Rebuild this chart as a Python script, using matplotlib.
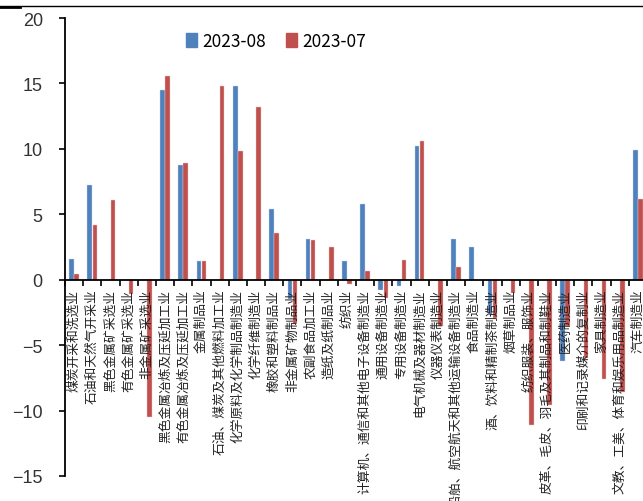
import matplotlib
matplotlib.use("Agg")
import matplotlib.pyplot as plt
import numpy as np
from matplotlib.lines import Line2D
from matplotlib.patches import Patch

plt.rcParams['font.family'] = ['Noto Sans CJK SC', 'DejaVu Sans']
plt.rcParams['axes.unicode_minus'] = True

industries = [
    "煤炭开采和洗选业", "石油和天然气开采业", "黑色金属矿采选业", "有色金属矿采选业",
    "非金属矿采选业", "黑色金属冶炼及压延加工业", "有色金属冶炼及压延加工业", "金属制品业",
    "石油、煤炭及其他燃料加工业", "化学原料及化学制品制造业", "化学纤维制造业", "橡胶和塑料制品业",
    "非金属矿物制品业", "农副食品加工业", "造纸及纸制品业", "纺织业",
    "计算机、通信和其他电子设备制造业", "通用设备制造业", "专用设备制造业", "电气机械及器材制造业",
    "仪器仪表制造业", "铁路、船舶、航空航天和其他运输设备制造业", "食品制造业", "酒、饮料和精制茶制造业",
    "烟草制品业", "纺织服装、服饰业", "皮革、毛皮、羽毛及其制品和制鞋业", "医药制造业",
    "印刷和记录媒介的复制业", "家具制造业", "文教、工美、体育和娱乐用品制造业", "汽车制造业",
]
aug_2023 = [1.6, 7.2, 0.0, 0.0, 0.0, 14.5, 8.8, 1.4,
            0.0, 14.8, 0.0, 5.4, -1.5, 3.1, 0.0, 1.4,
            5.8, -0.8, -0.5, 10.2, 0.0, 3.1, 2.5, -2.7,
            0.0, 0.0, 0.0, -6.2, 0.0, 0.0, 0.0, 9.9]
jul_2023 = [0.4, 4.2, 6.1, -1.1, -10.5, 15.6, 8.9, 1.4,
            14.8, 9.8, 13.2, 3.6, -3.4, 3.0, 2.5, -0.3,
            0.7, -1.4, 1.5, 10.6, -3.5, 1.0, 0.0, -2.9,
            -1.0, -11.1, -9.6, -3.5, -6.0, -7.6, -8.6, 6.2]

BLUE = "#4F81BD"
RED = "#C0504D"

fig = plt.figure(figsize=(6.43, 5.02), dpi=100)
ax = fig.add_axes([65 / 643, 25 / 502, 582 / 643, 458 / 502])

x = np.arange(len(industries))
w = 0.25
ax.bar(x - 0.14, aug_2023, w, color=BLUE, edgecolor="#c9d6ea", linewidth=0.3)
ax.bar(x + 0.14, jul_2023, w, color=RED, edgecolor="#ecc9c8", linewidth=0.3)

ax.set_xlim(-0.5, len(industries) - 0.5)
ax.set_ylim(-15, 20)
ax.set_yticks(np.arange(-15, 21, 5))
ax.tick_params(axis="y", direction="out", length=4, width=1.2, labelsize=13,
               pad=12, colors="black")
for lab in ax.get_yticklabels():
    lab.set_family("Liberation Sans")
    lab.set_color("#333333")

ax.set_xticks(np.arange(-0.5, len(industries), 1.0))
ax.set_xticklabels([])
ax.tick_params(axis="x", direction="out", length=4, width=1.2)

ax.spines["top"].set_visible(False)
ax.spines["right"].set_visible(False)
ax.spines["bottom"].set_position(("data", 0))
for s in ("left", "bottom"):
    ax.spines[s].set_linewidth(1.3)
    ax.spines[s].set_color("black")

# category names, rotated, hanging below the zero line
for i, name in enumerate(industries):
    ax.annotate(name, xy=(i, 0), xytext=(0, -6.5), textcoords="offset points",
                rotation=90, ha="center", va="top", fontsize=9.2,
                color="#222222", annotation_clip=False)

ax.legend(handles=[Patch(color=BLUE, label="2023-08"), Patch(color=RED, label="2023-07")],
          loc="center", bbox_to_anchor=(276 / 643, 460 / 502), bbox_transform=fig.transFigure,
          ncol=2, frameon=False, fontsize=12.5, handlelength=0.6, handleheight=0.8,
          handletextpad=0.3, columnspacing=1.2, labelcolor="black")

fig.add_artist(Line2D([0, 1], [495 / 502, 495 / 502], transform=fig.transFigure,
                      color="black", linewidth=1.0))
fig.add_artist(Line2D([0, 20 / 643], [494 / 502, 494 / 502], transform=fig.transFigure,
                      color="black", linewidth=2.0))

fig.savefig("out.png", dpi=100)
